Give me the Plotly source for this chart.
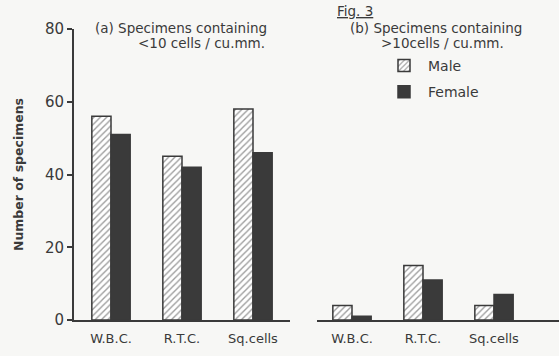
import plotly.graph_objects as go

categories = ["W.B.C.", "R.T.C.", "Sq.cells"]
male_low = [56, 45, 58]
female_low = [51, 42, 46]
male_high = [4, 15, 4]
female_high = [1, 11, 7]
y_ticks = [0, 20, 40, 60, 80]

INK = "#3a3a3a"
BG = "#f7f7f5"
FONT = "DejaVu Sans"

W, H = 559, 356
TOP, BOT = 29, 320
PH = BOT - TOP
L_A, R_A = 74, 290
L_B, R_B = 317, 559

def py(pix):
    return (BOT - pix) / PH

fig = go.Figure()

male_style = dict(color="white", line=dict(color=INK, width=1.5),
                  pattern=dict(shape="/", fgcolor=INK, bgcolor="white", size=4.5, solidity=0.3))
female_style = dict(color=INK, line=dict(color=INK, width=1.5))

fig.add_trace(go.Bar(x=categories, y=male_low, name="Male", marker=male_style,
                     xaxis="x", yaxis="y", legendgroup="m"))
fig.add_trace(go.Bar(x=categories, y=female_low, name="Female", marker=female_style,
                     xaxis="x", yaxis="y", legendgroup="f"))
fig.add_trace(go.Bar(x=categories, y=male_high, name="Male", marker=male_style,
                     xaxis="x2", yaxis="y2", legendgroup="m", showlegend=False))
fig.add_trace(go.Bar(x=categories, y=female_high, name="Female", marker=female_style,
                     xaxis="x2", yaxis="y2", legendgroup="f", showlegend=False))

step = 71.0
ra = [(L_A - 111) / step, (R_A - 111) / step]
rb = [(L_B - 352) / step, (R_B - 352) / step]

axis_common = dict(showgrid=False, zeroline=False, showline=True, linecolor=INK, linewidth=2,
                   ticks="", automargin=False, ticklabelstandoff=5,
                   tickfont=dict(family=FONT, size=13, color=INK))

fig.update_layout(
    width=W, height=H,
    margin=dict(l=0, r=0, t=TOP, b=H - BOT, pad=0),
    paper_bgcolor=BG, plot_bgcolor=BG,
    barmode="group", bargap=0.46, bargroupgap=0,
    font=dict(family=FONT, color=INK),
    xaxis=dict(domain=[L_A / W, R_A / W], range=ra, anchor="y", **axis_common),
    xaxis2=dict(domain=[L_B / W, 1.0], range=rb, anchor="y2", **axis_common),
    yaxis=dict(range=[0, 80], tickvals=y_ticks, showgrid=False, zeroline=False,
               showline=True, linecolor=INK, linewidth=2, ticks="outside", ticklen=5,
               tickwidth=1.5, tickcolor=INK, anchor="x", automargin=False,
               tickfont=dict(family=FONT, size=15, color=INK),
               title=dict(text="<b>Number of specimens</b>", standoff=19,
                          font=dict(family=FONT, size=12.5, color=INK))),
    yaxis2=dict(range=[0, 80], visible=False, anchor="x2"),
    legend=dict(x=380 / W, y=py(50), xanchor="left", yanchor="top",
                bgcolor="rgba(0,0,0,0)", font=dict(family=FONT, size=14, color=INK),
                itemwidth=38, tracegroupgap=5),
    showlegend=True,
)

ann_font = dict(family=FONT, size=13.5, color=INK)
texts = [
    ("(a) Specimens containing", 93, 28),
    ("&lt;10 cells / cu.mm.", 136, 43),
    ("(b) Specimens containing", 348, 28),
    ("&gt;10cells / cu.mm.", 379, 43),
    ("<u>Fig. 3</u>", 335, 11),
]
for t, px, pyy in texts:
    fig.add_annotation(text=t, x=px / W, y=py(pyy), xref="paper", yref="paper",
                       showarrow=False, xanchor="left", yanchor="middle", font=ann_font)

fig.write_html("out.html", config={"displayModeBar": False})

with open("out.html", "r", encoding="utf-8") as f:
    html = f.read()
html = html.replace("<body>", '<body style="margin:0;overflow:hidden">', 1)
with open("out.html", "w", encoding="utf-8") as f:
    f.write(html)
